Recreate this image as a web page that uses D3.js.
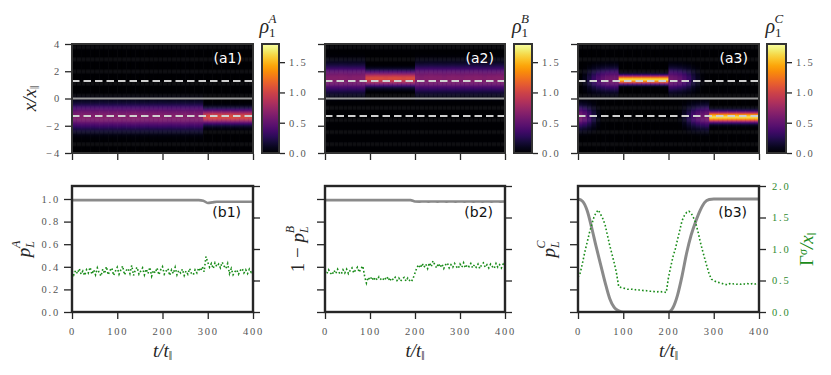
<!DOCTYPE html>
<html lang="en">
<head>
<meta charset="UTF-8">
<title>Density maps and populations</title>
<script src="https://d3js.org/d3.v7.min.js"></script>
<style>
  body { margin: 0; background: #fff; }
  svg { display: block; }
</style>
</head>
<body>
<div id="chart"></div>
<script>
// ---- values ----
const tTicks = [0, 100, 200, 300, 400];
const xTicks = [-4, -2, 0, 2, 4];
const pTicks = [0, 0.2, 0.4, 0.6, 0.8, 1.0];
const gTicks = [0, 0.5, 1.0, 1.5, 2.0];
const rhoTicks = [0, 0.5, 1.0, 1.5];
const wellX = [-1.28, 1.28];

// heat maps: one column per 10 time units, each band = amplitude + width per column
const heatT0 = d3.range(0, 400, 10);
const a1Center = -1.3;
const a1Amp = [0.62,0.64,0.65,0.65,0.64,0.65,0.66,0.65,0.64,0.65,0.65,0.64,0.65,0.66,0.65,0.65,0.64,0.65,0.65,0.66,
               0.65,0.64,0.65,0.65,0.66,0.65,0.64,0.65,0.65,1.02,1.05,1.06,1.05,1.04,1.05,1.06,1.05,1.04,1.05,1.05];
const a1Sig = [0.62,0.62,0.62,0.62,0.62,0.62,0.62,0.62,0.62,0.62,0.62,0.62,0.62,0.62,0.62,0.62,0.62,0.62,0.62,0.62,
               0.62,0.62,0.62,0.62,0.62,0.62,0.62,0.62,0.62,0.36,0.36,0.36,0.36,0.36,0.36,0.36,0.36,0.36,0.36,0.36];
const a2Center = 1.5;
const a2Amp = [0.64,0.65,0.65,0.66,0.65,0.64,0.65,0.65,0.66,1.03,1.05,1.06,1.05,1.04,1.05,1.06,1.05,1.04,1.05,1.05,
               0.65,0.64,0.65,0.66,0.65,0.65,0.64,0.65,0.66,0.65,0.64,0.65,0.65,0.66,0.65,0.64,0.65,0.65,0.66,0.65];
const a2Sig = [0.64,0.64,0.64,0.64,0.64,0.64,0.64,0.64,0.64,0.36,0.36,0.36,0.36,0.36,0.36,0.36,0.36,0.36,0.36,0.36,
               0.64,0.64,0.64,0.64,0.64,0.64,0.64,0.64,0.64,0.64,0.64,0.64,0.64,0.64,0.64,0.64,0.64,0.64,0.64,0.64];
const a3UpCenter = 1.42;
const a3UpAmp = [0,0.08,0.2,0.32,0.42,0.5,0.55,0.58,0.58,1.62,1.62,1.62,1.62,1.62,1.62,1.62,1.62,1.62,1.62,1.62,
                 0.58,0.55,0.5,0.42,0.32,0.2,0.1,0.03,0,0,0,0,0,0,0,0,0,0,0,0];
const a3UpSig = [0.55,0.55,0.55,0.55,0.55,0.55,0.55,0.55,0.55,0.21,0.21,0.21,0.21,0.21,0.21,0.21,0.21,0.21,0.21,0.21,
                 0.55,0.55,0.55,0.55,0.55,0.55,0.55,0.55,0.55,0.55,0.55,0.55,0.55,0.55,0.55,0.55,0.55,0.55,0.55,0.55];
const a3LowCenter = -1.32;
const a3LowAmp = [0.6,0.5,0.36,0.2,0.07,0,0,0,0,0,0,0,0,0,0,0,0,0,0,0,
                  0,0,0.03,0.12,0.25,0.38,0.48,0.55,0.6,1.65,1.65,1.65,1.65,1.65,1.65,1.65,1.65,1.65,1.65,1.65];
const a3LowSig = [0.55,0.55,0.55,0.55,0.55,0.55,0.55,0.55,0.55,0.55,0.55,0.55,0.55,0.55,0.55,0.55,0.55,0.55,0.55,0.55,
                  0.55,0.55,0.55,0.55,0.55,0.55,0.55,0.55,0.55,0.26,0.26,0.26,0.26,0.26,0.26,0.26,0.26,0.26,0.26,0.26];

// lower row: grey populations every 10 time units
const tGrey = d3.range(0, 401, 10);
const b1Grey = [0.99,0.99,0.99,0.99,0.99,0.99,0.99,0.99,0.99,0.99,0.99,0.99,0.99,0.99,0.99,0.99,0.99,0.99,0.99,0.99,
                0.99,0.99,0.99,0.99,0.99,0.99,0.99,0.99,0.99,0.985,0.965,0.97,0.975,0.975,0.975,0.975,0.975,0.975,0.975,0.975,0.975];
const b2Grey = [0.99,0.99,0.99,0.99,0.99,0.99,0.99,0.99,0.99,0.99,0.99,0.99,0.99,0.99,0.99,0.99,0.99,0.99,0.99,0.99,
                0.978,0.977,0.978,0.977,0.978,0.977,0.978,0.977,0.978,0.977,0.978,0.977,0.978,0.977,0.978,0.977,0.978,0.977,0.978,0.977,0.978];
const b3Grey = [1.0,0.98,0.9,0.75,0.58,0.42,0.26,0.12,0.04,0.01,0,0,0,0,0,0,0,0,0,0,
                0,0.04,0.15,0.32,0.52,0.68,0.8,0.9,0.97,0.995,1.0,1.0,1.0,1.0,1.0,1.0,1.0,1.0,1.0,1.0,1.0];

// green widths (right axis), b1/b2 every 4 time units, b3 every 5
const tGreen4 = d3.range(0, 401, 4);
const b1Green = [0.66,0.59,0.66,0.61,0.69,0.60,0.65,0.58,0.67,0.62,0.71,
                 0.60,0.67,0.59,0.70,0.62,0.57,0.68,0.61,0.72,0.59,
                 0.66,0.70,0.58,0.65,0.71,0.60,0.67,0.73,0.59,0.66,
                 0.69,0.61,0.74,0.58,0.67,0.71,0.60,0.65,0.70,0.59,
                 0.68,0.61,0.71,0.57,0.66,0.62,0.70,0.59,0.67,0.72,
                 0.60,0.65,0.69,0.58,0.67,0.61,0.71,0.59,0.66,0.62,
                 0.68,0.58,0.65,0.60,0.69,0.61,0.59,0.67,0.62,0.70,
                 0.65,0.72,0.64,0.88,0.79,0.71,0.77,0.69,0.78,0.72,
                 0.76,0.70,0.79,0.73,0.69,0.77,0.61,0.69,0.59,0.64,
                 0.67,0.60,0.66,0.69,0.62,0.67,0.61,0.68,0.63,0.66];
const b2Green = [0.66,0.61,0.67,0.62,0.59,0.66,0.61,0.68,0.62,0.60,0.67,
                 0.62,0.68,0.61,0.66,0.70,0.62,0.67,0.71,0.63,0.69,
                 0.73,0.57,0.46,0.55,0.51,0.56,0.50,0.55,0.51,0.56,
                 0.52,0.50,0.55,0.51,0.56,0.49,0.54,0.51,0.55,0.50,
                 0.54,0.49,0.53,0.55,0.49,0.54,0.50,0.48,0.54,0.62,
                 0.70,0.75,0.70,0.77,0.71,0.76,0.69,0.78,0.72,0.81,
                 0.75,0.70,0.77,0.71,0.76,0.69,0.75,0.78,0.70,0.75,
                 0.71,0.77,0.72,0.69,0.76,0.71,0.78,0.70,0.75,0.72,
                 0.77,0.70,0.75,0.71,0.76,0.69,0.75,0.78,0.71,0.75,
                 0.70,0.76,0.72,0.69,0.77,0.71,0.75,0.70,0.76,0.72];
const tGreen5 = d3.range(0, 401, 5);
const b3Green = [0.55,0.62,0.78,0.95,1.10,1.25,1.38,1.50,1.58,1.62,1.55,1.48,1.38,1.22,1.06,0.92,0.78,0.62,
                 0.40,0.39,0.38,0.37,0.36,0.36,0.36,0.35,0.36,0.35,0.35,0.34,0.34,0.33,0.33,0.33,0.32,0.32,0.33,0.32,0.32,0.31,
                 0.55,0.72,0.88,1.00,1.15,1.30,1.45,1.53,1.58,1.60,1.57,1.50,1.42,1.28,1.12,0.98,0.85,0.72,0.60,0.52,
                 0.50,0.48,0.47,0.46,0.45,0.44,0.43,0.45,0.44,0.45,0.44,0.45,0.44,0.45,0.44,0.45,0.44,0.45,0.44,0.45,0.45];

// ---- layout ----
const W = 831, H = 375;
const panelX = [[72, 253], [325, 505], [578, 759]];
const cbarX = [[262, 279], [514, 532], [767, 786]];
const topY = [44, 153], botY = [186, 312];
const frameColor = "#262626";
const green = "#1a8c1a";
const PAR = "\u2016";
const SERIF = "'Liberation Serif', serif";

const svg = d3.select("#chart").append("svg").attr("width", W).attr("height", H);
const defs = svg.append("defs");
const color = d3.scaleSequential(d3.interpolateInferno).domain([0, 1.8]);

function styleAxis(g, labels, labelColor) {
  g.attr("font-family", null).attr("font-size", null);
  g.select(".domain").remove();
  g.selectAll(".tick line").attr("stroke", frameColor).attr("stroke-width", 1.3);
  if (labels) {
    g.selectAll(".tick text")
      .style("font-family", SERIF).style("font-size", "10.5px")
      .style("letter-spacing", "1.8px").style("fill", labelColor || "#555");
  } else {
    g.selectAll(".tick text").remove();
  }
}

// math-ish label built from pieces
function mathText(parent, x, y, parts, opts = {}) {
  const t = parent.append("text")
    .style("font-family", SERIF).style("font-size", "19px").style("fill", opts.fill || "#262626")
    .attr("text-anchor", opts.anchor || "middle")
    .attr("transform", `translate(${x},${y})` + (opts.rotate ? " rotate(-90)" : ""));
  parts.forEach(p => {
    const s = t.append("tspan").text(p.t);
    if (p.italic) s.style("font-style", "italic");
    if (p.size) s.style("font-size", p.size + "px");
    if (p.dx) s.attr("dx", p.dx);
    if (p.dy) s.attr("dy", p.dy);
  });
  return t;
}

function panelTag(x, y, label, fill) {
  svg.append("text").style("font-family", "'DejaVu Sans', sans-serif").style("font-size", "14px")
    .style("fill", fill).attr("text-anchor", "end").attr("x", x).attr("y", y).text(label);
}

// inferno gradient for colour bars
const grad = defs.append("linearGradient").attr("id", "infernoGrad")
  .attr("x1", 0).attr("y1", 1).attr("x2", 0).attr("y2", 0);
d3.range(0, 1.0001, 0.05).forEach(f => {
  grad.append("stop").attr("offset", f).attr("stop-color", d3.interpolateInferno(f));
});

// ---- top row: density maps ----
const heatBands = [
  [{ center: a1Center, amp: a1Amp, sig: a1Sig }],
  [{ center: a2Center, amp: a2Amp, sig: a2Sig }],
  [{ center: a3UpCenter, amp: a3UpAmp, sig: a3UpSig }, { center: a3LowCenter, amp: a3LowAmp, sig: a3LowSig }]
];
const rowStep = 0.08;
const xRows = d3.range(-4, 4 - 1e-9, rowStep);
const rhoLetters = ["A", "B", "C"];

heatBands.forEach((bands, i) => {
  const xs = d3.scaleLinear().domain([0, 400]).range(panelX[i]);
  const ys = d3.scaleLinear().domain([-4, 4]).range([topY[1], topY[0]]);
  const clipId = "clipTop" + i;
  defs.append("clipPath").attr("id", clipId).append("rect")
    .attr("x", panelX[i][0]).attr("y", topY[0])
    .attr("width", panelX[i][1] - panelX[i][0]).attr("height", topY[1] - topY[0]);
  const g = svg.append("g").attr("clip-path", `url(#${clipId})`);

  const cells = [];
  heatT0.forEach((t, c) => {
    xRows.forEach(xv => {
      const xm = xv + rowStep / 2;
      let v = 0;
      bands.forEach(b => {
        if (b.amp[c] > 0) v += b.amp[c] * Math.exp(-((xm - b.center) ** 2) / (2 * b.sig[c] ** 2));
      });
      cells.push({ t, xv, v });
    });
  });
  g.selectAll("rect.cell").data(cells).join("rect").attr("class", "cell")
    .attr("x", d => xs(d.t)).attr("width", xs(10) - xs(0) + 0.5)
    .attr("y", d => ys(d.xv + rowStep)).attr("height", ys(0) - ys(rowStep) + 0.5)
    .attr("fill", d => color(d.v));

  // centre line and well positions
  g.append("line").attr("x1", panelX[i][0]).attr("x2", panelX[i][1])
    .attr("y1", ys(0)).attr("y2", ys(0)).attr("stroke", "#9a9a9a").attr("stroke-width", 2);
  wellX.forEach(w => {
    g.append("line").attr("x1", panelX[i][0]).attr("x2", panelX[i][1])
      .attr("y1", ys(w)).attr("y2", ys(w)).attr("stroke", "#cfcfcf")
      .attr("stroke-width", 2).attr("stroke-dasharray", "7.5,4");
  });

  svg.append("rect").attr("x", panelX[i][0]).attr("y", topY[0])
    .attr("width", panelX[i][1] - panelX[i][0]).attr("height", topY[1] - topY[0])
    .attr("fill", "none").attr("stroke", "#333").attr("stroke-width", 2);

  svg.append("g").attr("transform", `translate(${panelX[i][0] - 1},0)`)
    .call(d3.axisLeft(ys).tickValues(xTicks).tickSize(6).tickPadding(4))
    .call(g => styleAxis(g, i === 0));
  svg.append("g").attr("transform", `translate(0,${topY[1] + 1})`)
    .call(d3.axisBottom(xs).tickValues(tTicks).tickSize(6))
    .call(g => styleAxis(g, false));

  panelTag(panelX[i][1] - 11, 63, `(a${i + 1})`, "#fff");

  // colour bar
  const [c0, c1] = cbarX[i];
  const cs = d3.scaleLinear().domain([0, 1.8]).range([topY[1], topY[0]]);
  svg.append("rect").attr("x", c0).attr("y", topY[0]).attr("width", c1 - c0)
    .attr("height", topY[1] - topY[0]).attr("fill", "url(#infernoGrad)")
    .attr("stroke", "#333").attr("stroke-width", 2);
  svg.append("g").attr("transform", `translate(${c1 + 1},0)`)
    .call(d3.axisRight(cs).tickValues(rhoTicks).tickSize(5).tickPadding(4).tickFormat(d3.format(".1f")))
    .call(g => styleAxis(g, true));
  mathText(svg, (c0 + c1) / 2 - 11, 33, [
    { t: "ρ", italic: true, size: 20 },
    { t: "1", size: 13, dy: 4 },
    { t: rhoLetters[i], italic: true, size: 13, dx: -7, dy: -14 }
  ], { anchor: "start" });
});

mathText(svg, 36, (topY[0] + topY[1]) / 2, [
  { t: "x", italic: true }, { t: "/", italic: true }, { t: "x", italic: true },
  { t: PAR, size: 12, dy: 3 }
], { rotate: true });

// ---- bottom row: populations and widths ----
const greySeries = [b1Grey, b2Grey, b3Grey];
const greenSeries = [[tGreen4, b1Green], [tGreen4, b2Green], [tGreen5, b3Green]];

greySeries.forEach((grey, i) => {
  const xs = d3.scaleLinear().domain([0, 400]).range(panelX[i]);
  const yl = d3.scaleLinear().domain([0, 1.115]).range([botY[1], botY[0]]);
  const yr = d3.scaleLinear().domain([0, 2]).range([botY[1], botY[0]]);
  const clipId = "clipBot" + i;
  defs.append("clipPath").attr("id", clipId).append("rect")
    .attr("x", panelX[i][0]).attr("y", botY[0])
    .attr("width", panelX[i][1] - panelX[i][0]).attr("height", botY[1] - botY[0]);
  const g = svg.append("g").attr("clip-path", `url(#${clipId})`);

  g.append("path").datum(tGrey.map((t, k) => [t, grey[k]]))
    .attr("fill", "none").attr("stroke", "#8a8a8a").attr("stroke-width", i === 2 ? 3 : 2.6)
    .attr("d", d3.line().x(d => xs(d[0])).y(d => yl(d[1])).curve(d3.curveMonotoneX));

  const [tg, vg] = greenSeries[i];
  g.append("path").datum(tg.map((t, k) => [t, vg[k]]))
    .attr("fill", "none").attr("stroke", green).attr("stroke-width", 1.6)
    .attr("stroke-dasharray", "1.6,2.2")
    .attr("d", d3.line().x(d => xs(d[0])).y(d => yr(d[1])));

  svg.append("rect").attr("x", panelX[i][0]).attr("y", botY[0])
    .attr("width", panelX[i][1] - panelX[i][0]).attr("height", botY[1] - botY[0])
    .attr("fill", "none").attr("stroke", frameColor).attr("stroke-width", 2.4);

  svg.append("g").attr("transform", `translate(${panelX[i][0] - 1},0)`)
    .call(d3.axisLeft(yl).tickValues(pTicks).tickSize(7).tickPadding(4).tickFormat(d3.format(".1f")))
    .call(g => styleAxis(g, i === 0));
  svg.append("g").attr("transform", `translate(${panelX[i][1] + 1},0)`)
    .call(d3.axisRight(yr).tickValues(gTicks).tickSize(6).tickPadding(6).tickFormat(d3.format(".1f")))
    .call(g => styleAxis(g, i === 2, "#2e8b2e"));
  svg.append("g").attr("transform", `translate(0,${botY[1] + 1})`)
    .call(d3.axisBottom(xs).tickValues(tTicks).tickSize(6).tickPadding(9))
    .call(g => styleAxis(g, true));

  panelTag(panelX[i][1] - 12, 217, `(b${i + 1})`, "#111");

  mathText(svg, (panelX[i][0] + panelX[i][1]) / 2, 357, [
    { t: "t", italic: true }, { t: "/", italic: true }, { t: "t", italic: true },
    { t: PAR, size: 12, dy: 3 }
  ]);
});

const pLabel = (letter, pre) => (pre ? [{ t: "1 − " }] : []).concat([
  { t: "p", italic: true },
  { t: "L", italic: true, size: 12, dy: 4 },
  { t: letter, italic: true, size: 12, dx: -7, dy: -14 }
]);
mathText(svg, 30, 249, pLabel("A", false), { rotate: true });
mathText(svg, 304, 249, pLabel("B", true), { rotate: true });
mathText(svg, 555, 249, pLabel("C", false), { rotate: true });
mathText(svg, 813, 249, [
  { t: "Γ" }, { t: "σ", italic: true, size: 12, dy: -6 },
  { t: "/", italic: true, dy: 6 }, { t: "x", italic: true },
  { t: PAR, size: 12, dy: 3 }
], { rotate: true, fill: green });
</script>
</body>
</html>
